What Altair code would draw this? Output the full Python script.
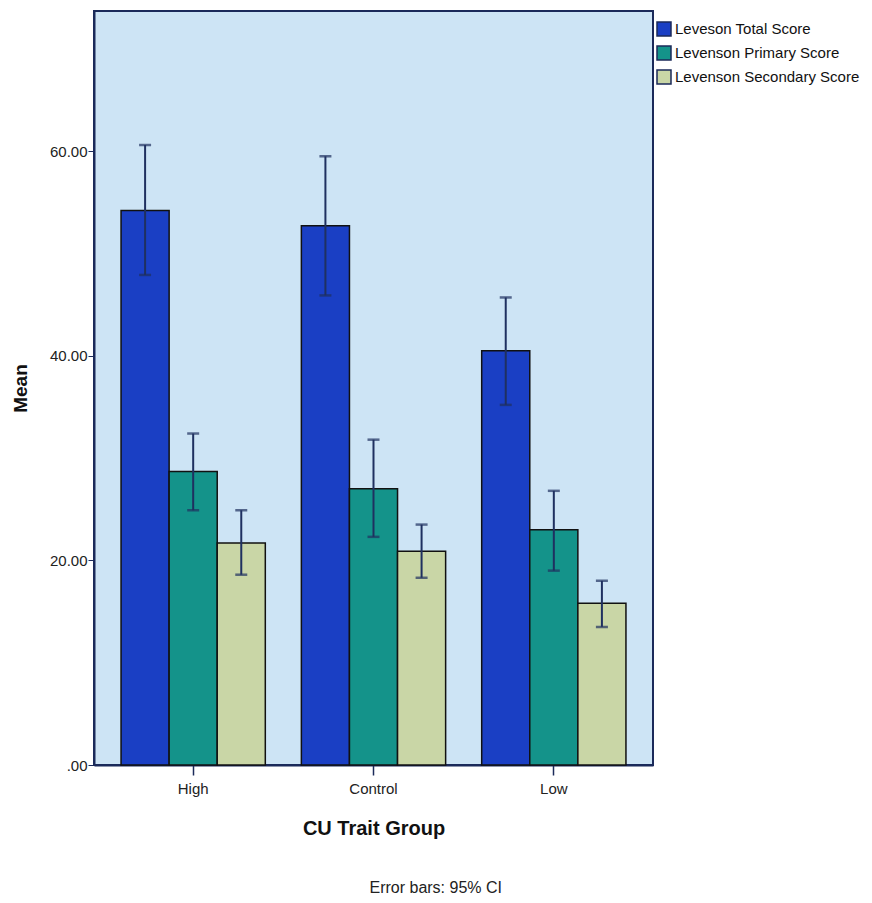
import altair as alt
import pandas as pd

groups = ["High", "Control", "Low"]
series = ["Leveson Total Score", "Levenson Primary Score", "Levenson Secondary Score"]
colors = ["#1a3fc4", "#14938a", "#c9d6a6"]

mean_total = [54.2, 52.7, 40.5]
mean_primary = [28.7, 27.0, 23.0]
mean_secondary = [21.7, 20.9, 15.8]

upper_total = [60.6, 59.5, 45.7]
upper_primary = [32.4, 31.8, 26.8]
upper_secondary = [24.9, 23.5, 18.0]

lower_total = [47.9, 45.9, 35.2]
lower_primary = [24.9, 22.3, 19.0]
lower_secondary = [18.6, 18.3, 13.5]

rows = []
for s, m, u, l in zip(series,
                      [mean_total, mean_primary, mean_secondary],
                      [upper_total, upper_primary, upper_secondary],
                      [lower_total, lower_primary, lower_secondary]):
    for g, mv, uv, lv in zip(groups, m, u, l):
        rows.append({"group": g, "series": s, "mean": mv, "hi": uv, "lo": lv})
df = pd.DataFrame(rows)

FONT = "Liberation Sans"

x = alt.X("group:N", sort=groups,
          scale=alt.Scale(paddingInner=0.2, paddingOuter=0.15),
          axis=alt.Axis(title="CU Trait Group", labelAngle=0, labelFontSize=15,
                        labelColor="#222222", labelFont=FONT, labelPadding=6,
                        titleFontSize=20, titleFontWeight="bold", titleFont=FONT,
                        titleColor="#111111", titlePadding=22,
                        tickSize=10, tickColor="#1b2a5a", domainColor="#1b2a5a",
                        domainWidth=2, tickWidth=1.5))
xo = alt.XOffset("series:N", sort=series,
                 scale=alt.Scale(paddingInner=0, paddingOuter=0))

y_scale = alt.Scale(domain=[0, 73.7], nice=False, zero=True)

bars = alt.Chart(df).mark_bar(stroke="#111111", strokeWidth=1.5).encode(
    x=x, xOffset=xo,
    y=alt.Y("mean:Q", scale=y_scale,
            axis=alt.Axis(title="Mean", values=[0, 20, 40, 60],
                          labelExpr="datum.value == 0 ? '.00' : format(datum.value, '.2f')",
                          labelFontSize=15, labelFont=FONT, labelColor="#222222",
                          labelPadding=1, tickSize=6, tickColor="#1b2a5a",
                          domainColor="#1b2a5a", domainWidth=2, grid=False,
                          titleFontSize=19, titleFontWeight="bold", titleFont=FONT,
                          titleColor="#111111", titlePadding=19)),
    color=alt.Color("series:N", sort=series,
                    scale=alt.Scale(domain=series, range=colors),
                    legend=alt.Legend(title=None, orient="none", legendX=562, legendY=10,
                                      symbolType="square", symbolSize=196,
                                      symbolStrokeColor="#1b2a5a", symbolStrokeWidth=1.5,
                                      labelFontSize=15, labelFont=FONT, labelColor="#111111",
                                      labelLimit=260, rowPadding=4, labelOffset=3,
                                      symbolOpacity=1)),
)

rules = alt.Chart(df).mark_rule(color="#1f3060", strokeWidth=2).encode(
    x=x, xOffset=xo, y=alt.Y("lo:Q", scale=y_scale), y2="hi:Q")

caps_hi = alt.Chart(df).mark_tick(color="#1f3060", thickness=2.5, size=12).encode(
    x=x, xOffset=xo, y=alt.Y("hi:Q", scale=y_scale))
caps_lo = alt.Chart(df).mark_tick(color="#1f3060", thickness=2.5, size=12).encode(
    x=x, xOffset=xo, y=alt.Y("lo:Q", scale=y_scale))

chart = alt.layer(bars, rules, caps_hi, caps_lo).properties(
    width=559, height=754,
    autosize=alt.AutoSizeParams(type="none"),
    padding={"left": 86, "top": 3, "right": 211, "bottom": 130},
    title=alt.TitleParams(text="Error bars: 95% CI", orient="bottom", anchor="middle",
                          frame="bounds", fontSize=16, fontWeight="normal", font=FONT,
                          color="#222222", offset=42),
).configure_view(fill="#cde4f5", stroke="#1b2a5a", strokeWidth=2)

chart.save("out.html", embed_options={"renderer": "svg", "actions": False})
